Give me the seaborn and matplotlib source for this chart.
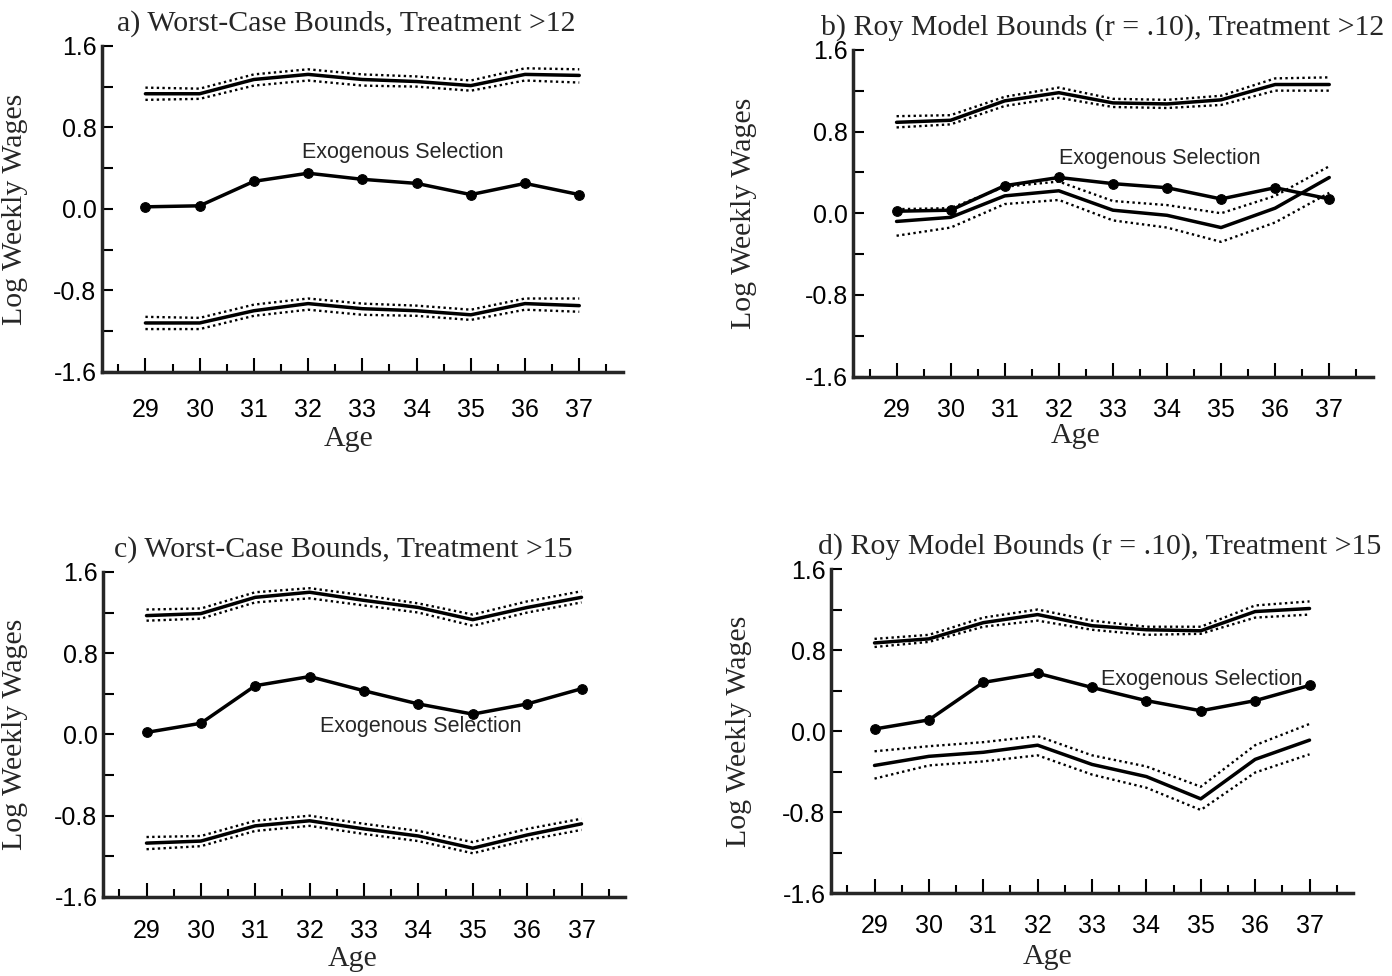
import matplotlib
matplotlib.use("Agg")
import matplotlib.pyplot as plt
import seaborn as sns

# ages on the x axis
ages = [29, 30, 31, 32, 33, 34, 35, 36, 37]

# exogenous selection estimates (same for worst-case and Roy panels)
exog_12 = [0.02, 0.03, 0.27, 0.35, 0.29, 0.25, 0.14, 0.25, 0.14]
exog_15 = [0.02, 0.11, 0.48, 0.57, 0.43, 0.30, 0.20, 0.30, 0.45]

# a) worst-case bounds, treatment >12
a_up = [1.13, 1.13, 1.27, 1.32, 1.27, 1.25, 1.21, 1.32, 1.31]
a_up_hi = [1.19, 1.18, 1.32, 1.37, 1.32, 1.30, 1.26, 1.38, 1.37]
a_up_lo = [1.07, 1.08, 1.21, 1.26, 1.21, 1.20, 1.16, 1.26, 1.24]
a_low = [-1.12, -1.12, -1.00, -0.93, -0.98, -1.00, -1.04, -0.93, -0.95]
a_low_hi = [-1.06, -1.07, -0.94, -0.88, -0.93, -0.95, -0.99, -0.88, -0.88]
a_low_lo = [-1.18, -1.18, -1.05, -0.99, -1.04, -1.05, -1.09, -0.99, -1.01]

# b) Roy model bounds, treatment >12
b_up = [0.89, 0.91, 1.10, 1.18, 1.08, 1.07, 1.11, 1.26, 1.26]
b_up_hi = [0.95, 0.96, 1.14, 1.23, 1.12, 1.11, 1.15, 1.32, 1.33]
b_up_lo = [0.84, 0.87, 1.05, 1.13, 1.04, 1.03, 1.06, 1.20, 1.20]
b_low = [-0.08, -0.04, 0.17, 0.22, 0.03, -0.02, -0.14, 0.05, 0.35]
b_low_hi = [0.04, 0.05, 0.26, 0.31, 0.12, 0.08, 0.00, 0.17, 0.46]
b_low_lo = [-0.22, -0.14, 0.09, 0.13, -0.07, -0.14, -0.28, -0.09, 0.20]

# c) worst-case bounds, treatment >15
c_up = [1.17, 1.19, 1.35, 1.40, 1.32, 1.25, 1.13, 1.25, 1.35]
c_up_hi = [1.23, 1.24, 1.40, 1.44, 1.37, 1.29, 1.18, 1.31, 1.41]
c_up_lo = [1.12, 1.14, 1.30, 1.34, 1.27, 1.20, 1.07, 1.20, 1.30]
c_low = [-1.07, -1.05, -0.90, -0.85, -0.93, -1.00, -1.12, -0.99, -0.88]
c_low_hi = [-1.01, -1.00, -0.85, -0.80, -0.88, -0.95, -1.06, -0.93, -0.83]
c_low_lo = [-1.13, -1.10, -0.95, -0.90, -0.98, -1.05, -1.17, -1.04, -0.94]

# d) Roy model bounds, treatment >15
d_up = [0.87, 0.91, 1.07, 1.15, 1.04, 1.00, 0.99, 1.18, 1.21]
d_up_hi = [0.91, 0.95, 1.12, 1.20, 1.09, 1.03, 1.03, 1.24, 1.28]
d_up_lo = [0.83, 0.88, 1.03, 1.09, 1.00, 0.95, 0.96, 1.12, 1.15]
d_low = [-0.34, -0.25, -0.21, -0.14, -0.33, -0.45, -0.67, -0.28, -0.09]
d_low_hi = [-0.20, -0.15, -0.11, -0.05, -0.24, -0.35, -0.55, -0.14, 0.07]
d_low_lo = [-0.47, -0.34, -0.30, -0.24, -0.43, -0.56, -0.78, -0.41, -0.23]

titles = ["a) Worst-Case Bounds, Treatment >12",
          "b) Roy Model Bounds (r = .10), Treatment >12",
          "c) Worst-Case Bounds, Treatment >15",
          "d) Roy Model Bounds (r = .10), Treatment >15"]

sns.set_style("ticks")
plt.rcParams["font.family"] = ["Liberation Sans", "DejaVu Sans"]
serif = ["Liberation Serif", "DejaVu Serif"]

fig = plt.figure(figsize=(13.92, 9.76), dpi=100)

panels = [
    dict(pos=[0.0733, 0.619, 0.374, 0.334], exog=exog_12,
         bands=[(a_up, a_up_hi, a_up_lo), (a_low, a_low_hi, a_low_lo)],
         txt=(33.75, 0.556), tx=0.47, ylab=-0.142, xlab=(0.473, -0.165), xpad=19),
    dict(pos=[0.613, 0.614, 0.373, 0.335], exog=exog_12,
         bands=[(b_up, b_up_hi, b_up_lo), (b_low, b_low_hi, b_low_lo)],
         txt=(33.86, 0.54), tx=0.48, ylab=-0.185, xlab=(0.428, -0.142), xpad=15),
    dict(pos=[0.074, 0.081, 0.375, 0.333], exog=exog_15,
         bands=[(c_up, c_up_hi, c_up_lo), (c_low, c_low_hi, c_low_lo)],
         txt=(34.05, 0.08), tx=0.46, ylab=-0.144, xlab=(0.479, -0.15), xpad=16),
    dict(pos=[0.597, 0.085, 0.375, 0.332], exog=exog_15,
         bands=[(d_up, d_up_hi, d_up_lo), (d_low, d_low_hi, d_low_lo)],
         txt=(35.02, 0.51), tx=0.515, ylab=-0.151, xlab=(0.414, -0.158), xpad=15),
]

dot = (0, (1.0, 1.4))

for p, title in zip(panels, titles):
    ax = fig.add_axes(p["pos"])
    for mid, hi, lo in p["bands"]:
        sns.lineplot(x=ages, y=hi, ax=ax, color="black", lw=1.7, linestyle=dot)
        sns.lineplot(x=ages, y=lo, ax=ax, color="black", lw=1.7, linestyle=dot)
        sns.lineplot(x=ages, y=mid, ax=ax, color="black", lw=2.5)
    sns.lineplot(x=ages, y=p["exog"], ax=ax, color="black", lw=2.5,
                 marker="o", markersize=7, markeredgecolor="black")
    ax.text(p["txt"][0], p["txt"][1], "Exogenous Selection", fontsize=15.5,
            ha="center", va="center")

    ax.set_xlim(28.2, 37.8)
    ax.set_ylim(-1.6, 1.6)
    ax.set_xticks(ages)
    ax.set_xticks([a - 0.5 for a in ages] + [37.5], minor=True)
    ax.set_yticks([-1.6, -0.8, 0.0, 0.8, 1.6])
    ax.set_yticklabels(["-1.6", "-0.8", "0.0", "0.8", "1.6"])
    ax.set_yticks([-1.2, -0.4, 0.4, 1.2], minor=True)
    ax.tick_params(axis="both", which="both", direction="in", width=1.5,
                   labelsize=18, colors="black")
    ax.tick_params(axis="x", which="major", length=10, pad=p["xpad"])
    ax.tick_params(axis="x", which="minor", length=6)
    ax.tick_params(axis="y", which="both", length=8, pad=4)
    sns.despine(ax=ax)
    for s in ["left", "bottom"]:
        ax.spines[s].set_linewidth(2.5)

    ax.set_title(title, fontsize=21.5, family=serif, x=p["tx"], pad=11)
    ax.set_xlabel("Age", fontsize=21.5, family=serif)
    ax.set_ylabel("Log Weekly Wages", fontsize=21.5, family=serif)
    ax.yaxis.set_label_coords(p["ylab"], 0.5)
    ax.xaxis.set_label_coords(p["xlab"][0], p["xlab"][1])

fig.savefig("out.png", dpi=100)
